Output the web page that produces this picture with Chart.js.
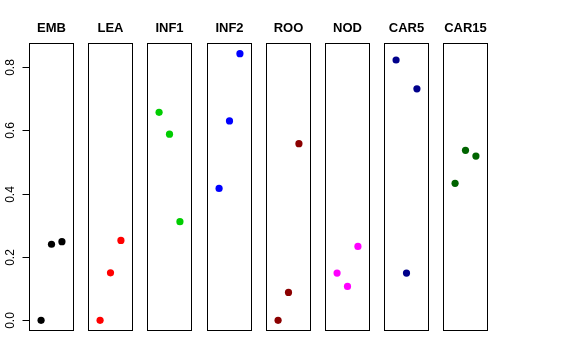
<!DOCTYPE html>
<html>
<head>
<meta charset="utf-8">
<script src="https://cdn.jsdelivr.net/npm/chart.js@4/dist/chart.umd.min.js"></script>
<style>
  html, body { margin: 0; padding: 0; background: #ffffff; }
  body { width: 576px; height: 360px; position: relative; overflow: hidden; }
  .panel { position: absolute; top: 0; }
</style>
</head>
<body>
<div id="wrap"></div>
<script>
// ---- data ----
const categories = ["EMB", "LEA", "INF1", "INF2", "ROO", "NOD", "CAR5", "CAR15"];
const positions = [1, 2, 3];
const valuesEMB   = [0.000, 0.240, 0.248];
const valuesLEA   = [0.000, 0.150, 0.252];
const valuesINF1  = [0.656, 0.587, 0.311];
const valuesINF2  = [0.416, 0.629, 0.841];
const valuesROO   = [0.000, 0.088, 0.557];
const valuesNOD   = [0.149, 0.107, 0.233];
const valuesCAR5  = [0.821, 0.149, 0.730];
const valuesCAR15 = [0.432, 0.536, 0.518];
const seriesValues = [valuesEMB, valuesLEA, valuesINF1, valuesINF2, valuesROO, valuesNOD, valuesCAR5, valuesCAR15];
const yTickValues = [0.0, 0.2, 0.4, 0.6, 0.8];
const yTickLabels = ["0.0", "0.2", "0.4", "0.6", "0.8"];

// ---- styles ----
const colors = ["#000000", "#FF0000", "#00CD00", "#0000FF", "#8B0000", "#FF00FF", "#00008B", "#006400"];

const Y_MIN = -0.0336, Y_MAX = 0.8746;
const X_MIN = -0.16, X_MAX = 4.16;
const PANEL_W = 45, PANEL_STEP = 59.2, FIRST_LEFT = 29;
const SIDE = 7;

const boxPlugin = {
  id: 'box',
  afterDraw(chart, args, opts) {
    const ctx = chart.ctx;
    const a = chart.chartArea;
    ctx.save();
    ctx.strokeStyle = '#000000';
    ctx.lineWidth = 1;
    ctx.strokeRect(Math.round(a.left) + 0.5, Math.round(a.top) + 0.5,
                   Math.round(a.right - a.left) - 1, Math.round(a.bottom - a.top) - 1);
    if (opts.axis) {
      const ys = chart.scales.y;
      ctx.fillStyle = '#000000';
      ctx.font = '12px "Liberation Sans", Arial, sans-serif';
      ctx.textAlign = 'center';
      ctx.textBaseline = 'alphabetic';
      const x0 = Math.round(a.left) + 0.5;
      yTickValues.forEach((v, i) => {
        const py = Math.round(ys.getPixelForValue(v)) + 0.5;
        ctx.beginPath();
        ctx.moveTo(x0 - 7, py);
        ctx.lineTo(x0, py);
        ctx.stroke();
        ctx.save();
        ctx.translate(14, py);
        ctx.rotate(-Math.PI / 2);
        ctx.fillText(yTickLabels[i], 0, 0);
        ctx.restore();
      });
    }
    ctx.restore();
  }
};

const wrap = document.getElementById('wrap');
categories.forEach((cat, i) => {
  const panelLeft = Math.round(FIRST_LEFT + i * PANEL_STEP);
  const first = i === 0;
  const canvasLeft = first ? 0 : panelLeft - SIDE;
  const padLeft = first ? panelLeft : SIDE;
  const width = padLeft + PANEL_W + SIDE;
  const div = document.createElement('div');
  div.className = 'panel';
  div.style.left = canvasLeft + 'px';
  div.style.width = width + 'px';
  div.style.height = '360px';
  const cv = document.createElement('canvas');
  div.appendChild(cv);
  wrap.appendChild(div);

  new Chart(cv, {
    type: 'scatter',
    data: {
      datasets: [{
        data: positions.map((p, k) => ({ x: p, y: seriesValues[i][k] })),
        backgroundColor: colors[i],
        borderColor: colors[i],
        borderWidth: 0,
        pointRadius: 3.6,
        pointHoverRadius: 3.6
      }]
    },
    options: {
      responsive: true,
      maintainAspectRatio: false,
      animation: false,
      events: [],
      layout: { padding: { left: padLeft, right: SIDE, top: 0, bottom: 29 } },
      scales: {
        x: { type: 'linear', min: X_MIN, max: X_MAX, display: false },
        y: { type: 'linear', min: Y_MIN, max: Y_MAX, display: false }
      },
      plugins: {
        legend: { display: false },
        tooltip: { enabled: false },
        title: {
          display: true,
          text: cat,
          fullSize: false,
          color: '#000000',
          font: { family: '"Liberation Sans", Arial, sans-serif', size: 13, weight: 'bold', lineHeight: 1.2 },
          padding: { top: 21, bottom: 6.4 }
        },
        box: { axis: first }
      }
    },
    plugins: [boxPlugin]
  });
});
</script>
</body>
</html>
